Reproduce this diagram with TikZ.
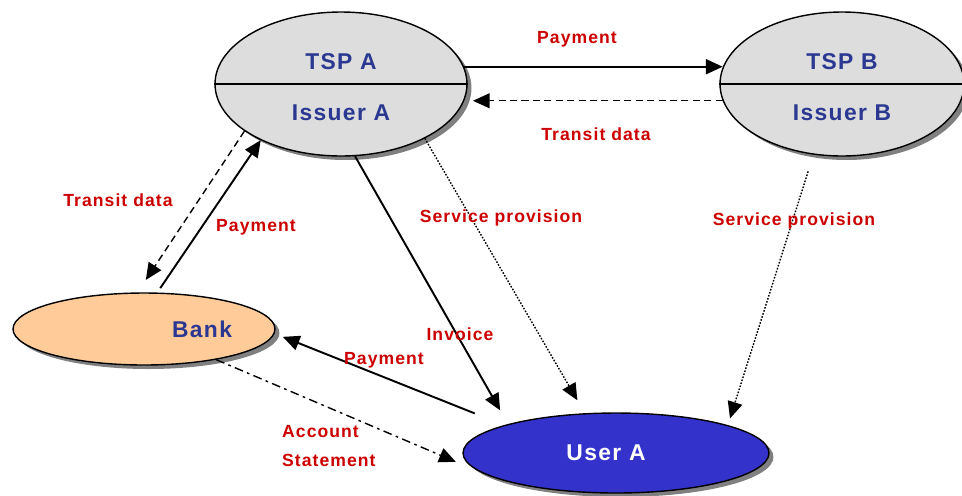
\documentclass[tikz,border=0pt]{standalone}
\usepackage{fontspec}
\setmainfont{Liberation Sans}[LetterSpace=6]
\usetikzlibrary{shapes.geometric, arrows.meta, positioning, calc, shadows}

\definecolor{nodeblue}{RGB}{42,56,145}
\definecolor{lblred}{RGB}{204,0,0}
\definecolor{tspgray}{RGB}{221,221,221}
\definecolor{bankorange}{RGB}{255,204,153}
\definecolor{userblue}{RGB}{51,51,204}

\begin{document}
\begin{tikzpicture}[
    x=0.02cm, y=-0.02cm,
    party/.style={ellipse, draw=black, line width=0.8pt, inner sep=0pt,
        drop shadow={shadow xshift=0.09cm, shadow yshift=-0.08cm, fill=black!50, opacity=1}},
    nodetext/.style={text=nodeblue, font=\fontsize{13}{15}\selectfont\bfseries},
    lbl/.style={text=lblred, font=\fontsize{10}{16}\selectfont\bfseries, align=left},
    arrow/.style={-{Triangle[length=9.5pt,width=8.5pt]}, line width=1.1pt},
    dasharrow/.style={arrow, line width=0.8pt, dash pattern=on 4pt off 2.5pt},
    dotarrow/.style={arrow, line width=0.8pt, dash pattern=on 0.9pt off 0.9pt},
    dasharrowdot/.style={arrow, line width=0.8pt, dash pattern=on 5pt off 2.5pt on 1.5pt off 2.5pt}
]
    \useasboundingbox (0,0) rectangle (962,495);

    % parties
    \node[party, fill=tspgray, minimum width=5.04cm, minimum height=2.88cm] (tspa) at (341,84) {};
    \node[party, fill=tspgray, minimum width=4.88cm, minimum height=2.88cm] (tspb) at (842,84) {};
    \node[party, fill=bankorange, minimum width=5.24cm, minimum height=1.44cm] (bank) at (144,329) {};
    \node[party, fill=userblue, minimum width=6.12cm, minimum height=1.6cm] (usera) at (616,453) {};

    \draw[line width=1.1pt] (tspa.west) -- (tspa.east);
    \draw[line width=1.1pt] (tspb.west) -- (tspb.east);

    \node[nodetext] (tspa-top) at ($(tspa.center)+(0,-22)$) {TSP A};
    \node[nodetext] (tspa-low) at ($(tspa.center)+(0,29)$) {Issuer A};
    \node[nodetext] (tspb-top) at ($(tspb.center)+(0,-22)$) {TSP B};
    \node[nodetext] (tspb-low) at ($(tspb.center)+(0,29)$) {Issuer B};
    \node[nodetext] (bank-txt) at ($(bank.center)+(58,0)$) {Bank};
    \node[nodetext, text=white] (usera-txt) at ($(usera.center)+(-10,0)$) {User A};

    % flows
    \draw[arrow] (tspa.8) -- (tspa.8 -| tspb.172);
    \draw[dasharrow, shorten >=3pt] (tspb.188) -- (tspb.188 -| tspa.east);
    \draw[dasharrow, shorten >=8.5pt] (tspa.206) -- (bank.100);
    \draw[arrow, shorten <=3pt] (bank.70) -- (tspa.215);
    \draw[arrow, shorten >=9pt] (tspa.-79) -- (usera.165);
    \draw[dotarrow, shorten >=8.5pt] (tspa.-33) -- (usera.128);
    \draw[dotarrow, shorten <=10pt, shorten >=4pt] (tspb.-112) -- (usera.14);
    \draw[arrow, shorten <=18pt, shorten >=5pt] (usera.166) -- (bank.-2);
    \draw[dasharrowdot, shorten >=20pt] (bank.-23) -- (usera.190);

    % labels
    \node[lbl] (lpaytop) at (577,39) {Payment};
    \node[lbl] (ltransb) at (596,134) {Transit data};
    \node[lbl] (ltransa) at (118,200) {Transit data};
    \node[lbl] (lpaybank) at (256,227) {Payment};
    \node[lbl] (lserva) at (501,218) {Service provision};
    \node[lbl] (lservb) at (794,221) {Service provision};
    \node[lbl] (linvoice) at (460,334) {Invoice};
    \node[lbl] (lpayuser) at (384,360) {Payment};
    \node[lbl, anchor=west] (lstatement) at (276,446) {Account\\Statement};
\end{tikzpicture}
\end{document}
